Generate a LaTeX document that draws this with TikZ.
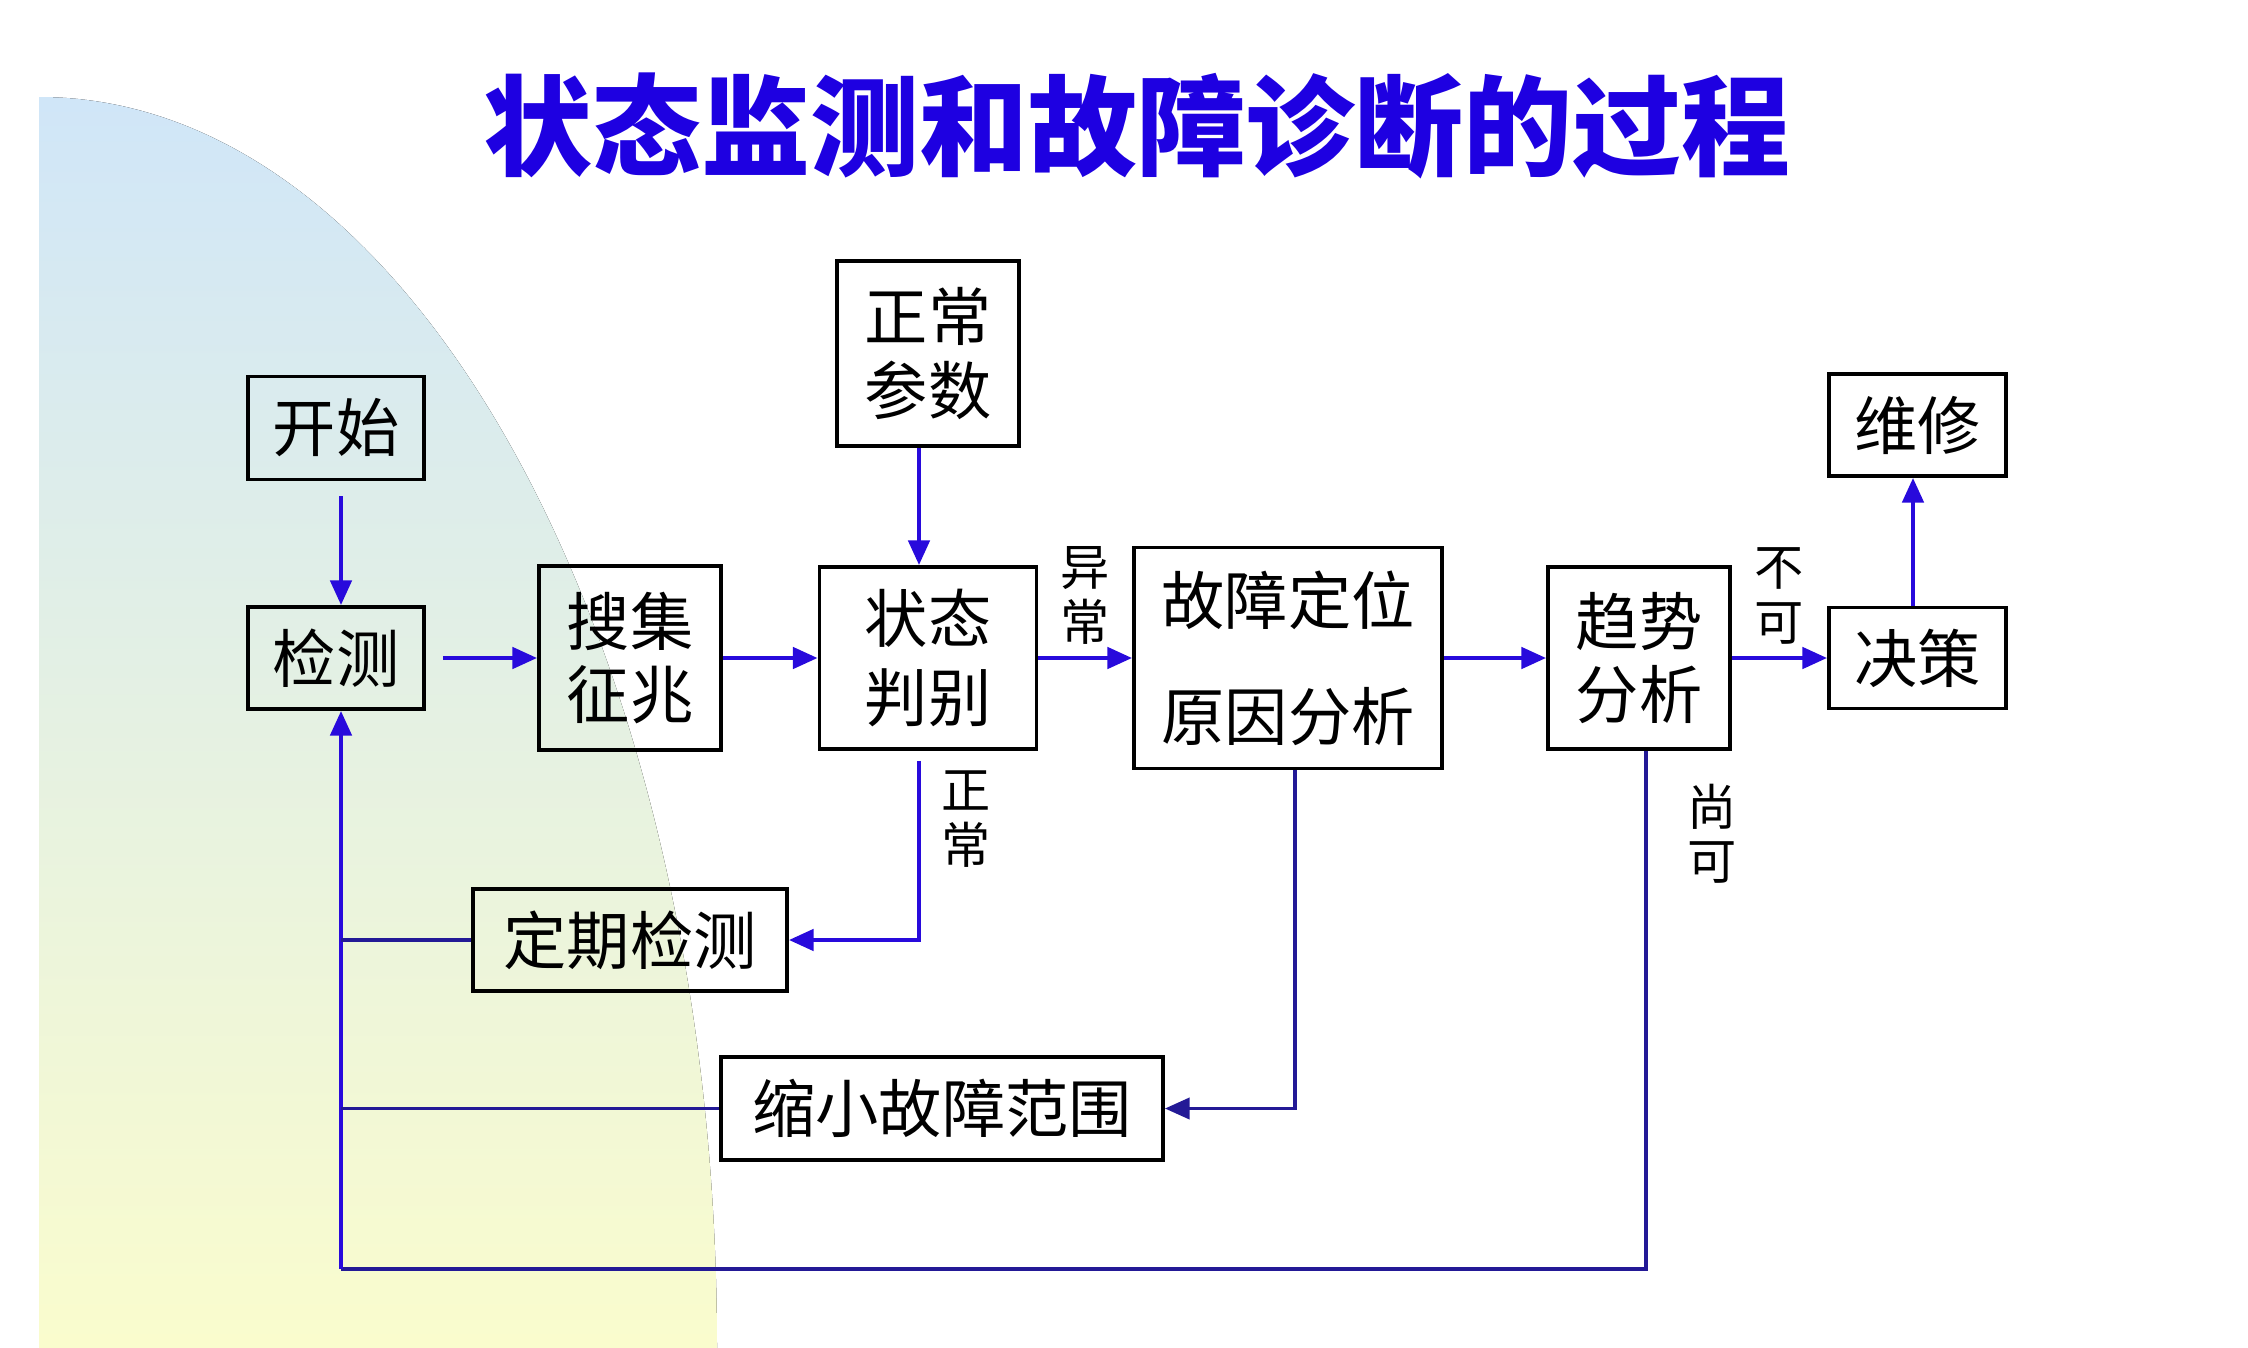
\documentclass[tikz,border=0pt]{standalone}
\usepackage{fontspec}
\setmainfont{Noto Sans CJK SC}
\usepackage{tikz}
\usetikzlibrary{arrows.meta}

\definecolor{flowblue}{RGB}{40,10,220}
\definecolor{backblue}{RGB}{35,25,150}
\definecolor{titleblue}{RGB}{30,0,225}
\definecolor{bgtop}{RGB}{208,230,248}
\definecolor{bgbottom}{RGB}{250,252,205}

\begin{document}
\begin{tikzpicture}[
    blk/.style={draw, line width=1.1pt, align=center, inner sep=0pt, font=\fontsize{18pt}{21pt}\selectfont},
    flow/.style={color=flowblue, line width=1.2pt},
    back/.style={color=backblue, line width=1pt},
    tag/.style={align=center, text=black, font=\fontsize{14pt}{15.5pt}\selectfont},
    >={Triangle[length=7pt,width=6pt]}
  ]
  \path[use as bounding box, fill=white] (0,0) rectangle (22.48,-13.48);
  \fill[top color=bgtop, bottom color=bgbottom] (0.39,-13.48) -- (0.39,-0.97)
    .. controls (4.2,-0.97) and (7.17,-6.6) .. (7.17,-13.48) -- cycle;

  \node[font=\fontsize{31pt}{31pt}\selectfont\bfseries, text=titleblue] (title) at (11.37,-1.26) {状态监测和故障诊断的过程};

  \node[blk, minimum width=1.76cm, minimum height=1.03cm] (kaishi) at (3.36,-4.28) {开始};
  \node[blk, minimum width=1.76cm, minimum height=1.02cm] (jiance) at (3.36,-6.58) {检测};
  \node[blk, minimum width=1.82cm, minimum height=1.84cm] (souji) at (6.30,-6.58) {搜集\\征兆};
  \node[blk, minimum width=1.82cm, minimum height=1.85cm] (canshu) at (9.28,-3.535) {正常\\参数};
  \node[blk, minimum width=2.17cm, minimum height=1.82cm] (panbie) at (9.28,-6.58) {状态\\[1.5pt]判别};
  \node[blk, minimum width=3.08cm, minimum height=2.21cm] (dingwei) at (12.88,-6.58) {故障定位\\[12pt]原因分析};
  \node[blk, minimum width=1.82cm, minimum height=1.82cm] (qushi) at (16.39,-6.58) {趋势\\分析};
  \node[blk, minimum width=1.77cm, minimum height=1.02cm] (weixiu) at (19.175,-4.25) {维修};
  \node[blk, minimum width=1.77cm, minimum height=1.01cm] (juece) at (19.175,-6.58) {决策};
  \node[blk, minimum width=3.14cm, minimum height=1.02cm] (dingqi) at (6.30,-9.40) {定期检测};
  \node[blk, minimum width=4.42cm, minimum height=1.03cm] (suoxiao) at (9.42,-11.085) {缩小故障范围};
  \coordinate (corner) at (3.41,-12.69);

  \path[->, flow]
  ([xshift=0.05cm]kaishi.south) edge[shorten <=0.15cm] ([xshift=0.05cm]jiance.north)
  (jiance) edge[shorten <=0.17cm] (souji)
  (souji) edge (panbie)
  ([xshift=-0.09cm]canshu.south) edge ([xshift=-0.09cm]panbie.north)
  (panbie) edge node[tag, above] (yichang) {异\\常} (dingwei)
  (dingwei) edge (qushi)
  (qushi) edge node[tag, above] (buke) {不\\可} (juece)
  ([xshift=-0.045cm]juece.north) edge ([xshift=-0.045cm]weixiu.south)
  ;
  \draw[->, flow, shorten <=0.1cm] ([xshift=-0.09cm]panbie.south) |- node[tag, pos=0.18, right=2.5pt] (zhengchang) {正\\常} (dingqi.east);
  \draw[->, back] ([xshift=0.07cm]dingwei.south) |- (suoxiao.east);
  \draw[back] ([xshift=0.07cm]qushi.south) |- node[tag, pos=0.08, right=8pt] (shangke) {尚\\可} (corner);
  \draw[->, flow] (corner) -- (corner |- jiance.south);
  \draw[back] (dingqi.west) -- (dingqi.west -| corner);
  \draw[back] (suoxiao.west) -- (suoxiao.west -| corner);
\end{tikzpicture}
\end{document}
